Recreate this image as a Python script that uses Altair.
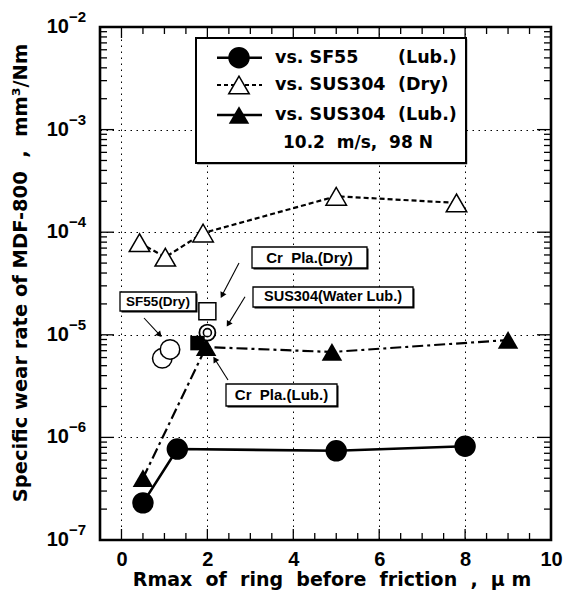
import math
import altair as alt
import pandas as pd

# ---------------- data ----------------
sf55_lub_x = [0.5, 1.3, 5.0, 8.0]
sf55_lub_y = [2.3e-7, 7.7e-7, 7.4e-7, 8.2e-7]

sus_dry_x = [0.42, 1.02, 1.9, 5.0, 7.8]
sus_dry_y = [7.9e-5, 5.7e-5, 9.8e-5, 2.24e-4, 1.93e-4]

sus_lub_x = [0.5, 1.97, 4.9, 9.0]
sus_lub_y = [4.0e-7, 7.6e-6, 6.8e-6, 8.9e-6]

sf55_dry_x = [0.95, 1.13]
sf55_dry_y = [5.9e-6, 7.2e-6]

water_x = [2.0]
water_y = [1.05e-5]

crdry_x = [2.0]
crdry_y = [1.7e-5]

crlub_x = [1.77]
crlub_y = [8.3e-6]

x_major = [0, 2, 4, 6, 8, 10]
x_minor = [0.5, 1, 1.5, 2.5, 3, 3.5, 4.5, 5, 5.5, 6.5, 7, 7.5, 8.5, 9, 9.5]
y_decades = [1e-7, 1e-6, 1e-5, 1e-4, 1e-3, 1e-2]
y_minor = [k * d for d in [1e-7, 1e-6, 1e-5, 1e-4, 1e-3] for k in range(2, 10)]

NB = "\u00a0"  # non-breaking space keeps the wide gaps of the original lettering
legend_labels = ["vs." + NB + "SF55", "vs." + NB + "SUS304", "vs." + NB + "SUS304"]
legend_conds = ["(Lub.)", "(Dry)", "(Lub.)"]
legend_note = "10.2" + NB * 2 + "m/s," + NB * 2 + "98" + NB + "N"

x_title = ("Rmax" + NB * 2 + "of" + NB * 2 + "ring" + NB * 2 + "before" + NB * 2 +
           "friction" + NB * 2 + "," + NB * 2 + "\u03bc" + NB + "m")
y_title = "Specific wear rate of MDF-800" + NB * 2 + "," + NB * 2 + "mm\u00b3/Nm"

# ---------------- layout ----------------
W, H = 451, 513
FONT = "DejaVu Sans"
NUMFONT = "Liberation Sans"

XS = alt.Scale(domain=[-0.5, 10], nice=False, zero=False)
YS = alt.Scale(type="log", domain=[1e-7, 1e-2], nice=False)

AX_X = alt.Axis(
    values=x_major, grid=True, gridDash=[1.5, 4.5], gridColor="black", gridWidth=1,
    gridOpacity=1, ticks=False, domain=False, labelFont=NUMFONT, labelFontSize=20,
    labelFontWeight="bold", labelColor="black", labelPadding=9, labelFlush=False,
    title=None)
AX_Y = alt.Axis(
    values=y_decades, grid=True, gridDash=[1.5, 4.5], gridColor="black", gridWidth=1,
    gridOpacity=1, ticks=False, domain=False, labels=False, title=None)


def df(x, y):
    return pd.DataFrame({"x": x, "y": y})


def X():
    return alt.X("x:Q", scale=XS, axis=AX_X)


def Y():
    return alt.Y("y:Q", scale=YS, axis=AX_Y)


ONE = alt.Data(values=[{}])

layers = []

# inward ticks (clipped to the plot frame so only the inner half shows)
tick_df_y_major = pd.DataFrame({"y": y_decades})
tick_df_y_minor = pd.DataFrame({"y": y_minor})
tick_df_x_major = pd.DataFrame({"x": x_major})
tick_df_x_minor = pd.DataFrame({"x": x_minor})
for d, ln in [(tick_df_y_major, 14), (tick_df_y_minor, 7)]:
    for xpos in (0, W):
        layers.append(alt.Chart(d).mark_tick(
            orient="horizontal", color="black", thickness=1.3, size=2 * ln,
            opacity=1, clip=True).encode(y=Y(), x=alt.value(xpos)))
for d, ln in [(tick_df_x_major, 11), (tick_df_x_minor, 7)]:
    for ypos in (0, H):
        layers.append(alt.Chart(d).mark_tick(
            orient="vertical", color="black", thickness=1.3, size=2 * ln,
            opacity=1, clip=True).encode(x=X(), y=alt.value(ypos)))

# y tick labels 10^n
dec_df = pd.DataFrame({"y": y_decades,
                       "exp": ["\u2212%d" % round(-math.log10(v)) for v in y_decades]})
layers.append(alt.Chart(dec_df).mark_text(
    text="10", align="right", baseline="middle", font=NUMFONT, fontSize=20,
    fontWeight="bold", color="black").encode(y=Y(), x=alt.value(-31)))
layers.append(alt.Chart(dec_df).mark_text(
    align="left", baseline="middle", font=NUMFONT, fontSize=15, dy=-10,
    fontWeight="bold", color="black").encode(y=Y(), x=alt.value(-31), text="exp:N"))

# data lines
layers.append(alt.Chart(df(sf55_lub_x, sf55_lub_y)).mark_line(
    color="black", strokeWidth=2.6).encode(x=X(), y=Y()))
layers.append(alt.Chart(df(sus_dry_x, sus_dry_y)).mark_line(
    color="black", strokeWidth=2.2, strokeDash=[5, 3]).encode(x=X(), y=Y()))
layers.append(alt.Chart(df(sus_lub_x, sus_lub_y)).mark_line(
    color="black", strokeWidth=2.2, strokeDash=[11, 4, 3, 4]).encode(x=X(), y=Y()))

# data symbols
layers.append(alt.Chart(df(sf55_lub_x, sf55_lub_y)).mark_point(
    shape="circle", filled=True, color="black", size=460, opacity=1).encode(x=X(), y=Y()))
layers.append(alt.Chart(df(sus_dry_x, sus_dry_y)).mark_point(
    shape="triangle-up", filled=True, fill="white", stroke="black", strokeWidth=1.5,
    size=420, opacity=1).encode(x=X(), y=Y()))
layers.append(alt.Chart(df(sus_lub_x, sus_lub_y)).mark_point(
    shape="triangle-up", filled=True, color="black", size=420, opacity=1).encode(x=X(), y=Y()))
layers.append(alt.Chart(df(sf55_dry_x, sf55_dry_y)).mark_point(
    shape="circle", filled=True, fill="white", stroke="black", strokeWidth=1.5,
    size=380, opacity=1).encode(x=X(), y=Y()))
layers.append(alt.Chart(df(crdry_x, crdry_y)).mark_point(
    shape="square", filled=True, fill="white", stroke="black", strokeWidth=1.5,
    size=289, opacity=1).encode(x=X(), y=Y()))
layers.append(alt.Chart(df(water_x, water_y)).mark_point(
    shape="circle", filled=True, fill="white", stroke="black", strokeWidth=1.8,
    size=256, opacity=1).encode(x=X(), y=Y()))
layers.append(alt.Chart(df(water_x, water_y)).mark_point(
    shape="circle", filled=True, fill="white", stroke="black", strokeWidth=1.6,
    size=64, opacity=1).encode(x=X(), y=Y()))
layers.append(alt.Chart(df(crlub_x, crlub_y)).mark_point(
    shape="square", filled=True, color="black", size=210, opacity=1).encode(x=X(), y=Y()))


# ---------------- helpers for annotation / legend ----------------
def box(x1, y1, x2, y2, sw=1.3, shadow=1.5):
    out = []
    if shadow:
        out.append(alt.Chart(ONE).mark_rect(fill="black").encode(
            x=alt.value(x1 + shadow), x2=alt.value(x2 + shadow),
            y=alt.value(y1 + shadow), y2=alt.value(y2 + shadow)))
    out.append(alt.Chart(ONE).mark_rect(fill="white", stroke="black", strokeWidth=sw).encode(
        x=alt.value(x1), x2=alt.value(x2), y=alt.value(y1), y2=alt.value(y2)))
    return out


def text(s, x, y, size, align="left", font=FONT, angle=None):
    kw = dict(text=s, align=align, baseline="middle", font=font, fontSize=size,
              fontWeight="bold", color="black")
    if angle is not None:
        kw["angle"] = angle
    return alt.Chart(ONE).mark_text(**kw).encode(x=alt.value(x), y=alt.value(y))


def arrow(x1, y1, x2, y2):
    dx, dy = x2 - x1, y2 - y1
    L = math.hypot(dx, dy)
    ux, uy = dx / L, dy / L
    ang = math.degrees(math.atan2(dx, -dy)) % 360
    hx, hy = x2 - 3.0 * ux, y2 - 3.0 * uy
    return [
        alt.Chart(ONE).mark_rule(color="black", strokeWidth=1.1).encode(
            x=alt.value(x1), y=alt.value(y1), x2=alt.value(hx), y2=alt.value(hy)),
        alt.Chart(ONE).mark_point(shape="triangle-up", filled=True, color="black",
                                  size=45, opacity=1, angle=ang).encode(
            x=alt.value(hx), y=alt.value(hy)),
    ]


# annotation boxes
layers += box(20, 265, 96, 284)
layers.append(text("SF55(Dry)", 58, 274.5, 13.5, align="center", font=NUMFONT))
layers += arrow(44, 291, 61.7, 310)

layers += box(152, 220, 267, 241)
layers.append(text("Cr" + NB * 2 + "Pla.(Dry)", 209.5, 230.5, 15, align="center", font=NUMFONT))
layers += arrow(139, 236, 120.7, 271)

layers += box(153, 260, 313, 280)
layers.append(text("SUS304(Water" + NB + "Lub.)", 233, 270, 14.5, align="center", font=NUMFONT))
layers += arrow(145, 269.7, 126.7, 299.7)

layers += box(126, 357, 237, 379)
layers.append(text("Cr" + NB * 2 + "Pla.(Lub.)", 181.5, 368, 15, align="center", font=NUMFONT))
layers += arrow(128, 353, 113.3, 329.7)

# legend
layers += box(96, 11, 366, 136, sw=2, shadow=1.2)
row_y = [30.7, 58, 88]
# row 1: solid + filled circle
layers.append(alt.Chart(ONE).mark_rule(color="black", strokeWidth=2.4).encode(
    x=alt.value(117), x2=alt.value(162), y=alt.value(row_y[0])))
layers.append(alt.Chart(ONE).mark_point(shape="circle", filled=True, color="black",
                                        size=460, opacity=1).encode(
    x=alt.value(139), y=alt.value(row_y[0])))
# row 2: dashed + open triangle
layers.append(alt.Chart(ONE).mark_rule(color="black", strokeWidth=2, strokeDash=[4, 3]).encode(
    x=alt.value(117), x2=alt.value(162), y=alt.value(row_y[1])))
layers.append(alt.Chart(ONE).mark_point(shape="triangle-up", filled=True, fill="white",
                                        stroke="black", strokeWidth=1.5, size=420,
                                        opacity=1).encode(
    x=alt.value(139), y=alt.value(row_y[1])))
# row 3: line + filled triangle
layers.append(alt.Chart(ONE).mark_rule(color="black", strokeWidth=2.4).encode(
    x=alt.value(117), x2=alt.value(162), y=alt.value(row_y[2])))
layers.append(alt.Chart(ONE).mark_point(shape="triangle-up", filled=True, color="black",
                                        size=420, opacity=1).encode(
    x=alt.value(139), y=alt.value(row_y[2])))
for lab, cond, yy in zip(legend_labels, legend_conds, row_y):
    layers.append(text(lab, 175, yy, 17.5))
    layers.append(text(cond, 298, yy, 17.5))
layers.append(text(legend_note, 183, 116, 17))

# axis titles
layers.append(text(x_title, 232, 553, 19, align="center"))
layers.append(text(y_title, -79, 246, 19.5, align="center", angle=270))

chart = alt.layer(*layers).properties(
    width=W, height=H,
    autosize=alt.AutoSizeParams(type="none"),
    padding={"left": 100, "top": 27, "right": 17, "bottom": 57},
    background="white",
).configure_view(stroke="black", strokeWidth=2.6)

chart.save("out.html", embed_options={"renderer": "svg", "actions": False})
